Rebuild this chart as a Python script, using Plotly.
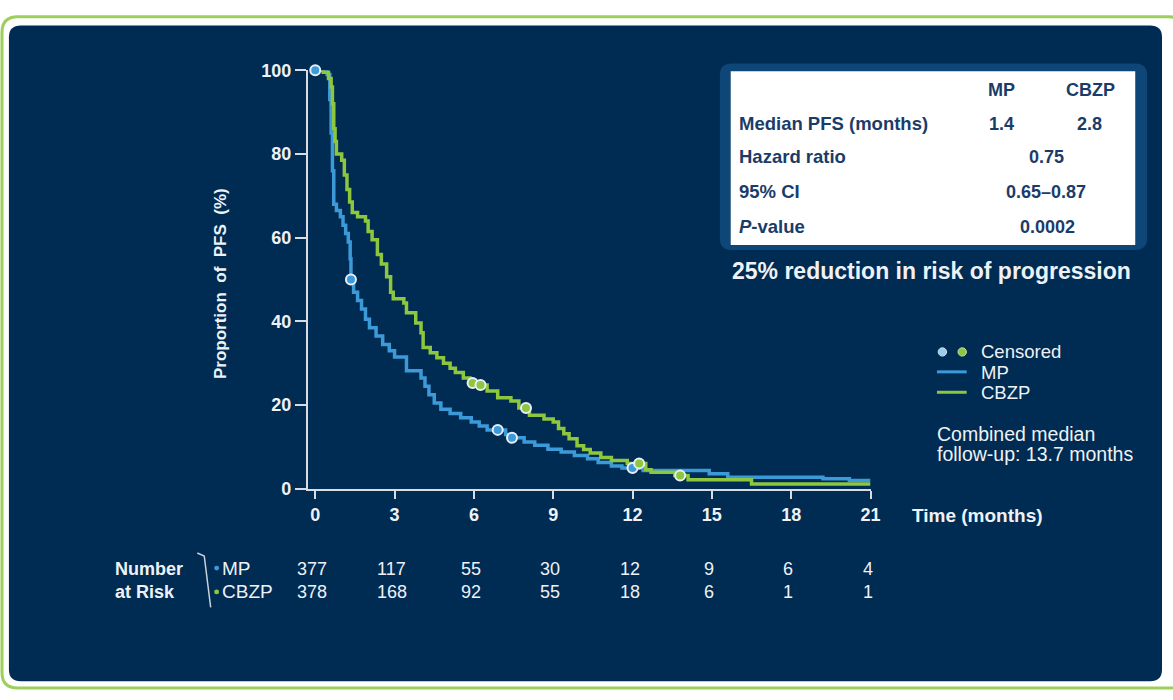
import plotly.graph_objects as go

W, H = 1173, 700

# ---------------- data ----------------
mp_time = [0, 0.45, 0.55, 0.6, 0.65, 0.7, 0.8, 0.95, 1.05, 1.15, 1.25, 1.32, 1.35, 1.45, 1.6, 1.75,
           1.9, 2.05, 2.3, 2.55, 2.8, 3.0, 3.45, 4.0, 4.15, 4.3, 4.5, 4.75, 5.1, 5.5, 5.9, 6.2, 6.5,
           7.2, 7.35, 7.9, 8.3, 8.8, 9.3, 9.8, 10.3, 10.7, 11.2, 11.6, 12.4, 14.9, 15.6, 19.2, 20.2, 21]
mp_surv = [100, 99, 93, 85, 76, 68, 66.5, 65, 63, 61, 59, 55, 50, 47, 45, 43,
           40.5, 38.5, 36.5, 34.5, 33, 31.5, 28.2, 26.5, 24.5, 22.5, 20.5, 19, 18, 17, 16, 15, 14.1,
           13.0, 12.2, 11.2, 10.4, 9.5, 8.8, 8.0, 7.2, 6.3, 5.5, 5.0, 4.4, 3.6, 2.8, 2.4, 2.0, 2.0]

cbzp_time = [0, 0.3, 0.5, 0.6, 0.65, 0.7, 0.75, 0.8, 1.0, 1.1, 1.2, 1.3, 1.4, 1.6, 1.9, 2.0, 2.15,
             2.35, 2.5, 2.7, 2.85, 2.95, 3.35, 3.45, 3.8, 4.0, 4.08, 4.35, 4.6, 4.85, 5.1, 5.3, 5.6,
             5.85, 6.2, 6.5, 6.9, 7.4, 7.7, 8.1, 8.65, 9.0, 9.2, 9.4, 9.6, 9.9, 10.15, 10.4, 10.8,
             11.2, 11.8, 12.5, 12.7, 13.6, 14.1, 16.5, 21]
cbzp_surv = [100, 99.5, 98, 96, 92, 86, 83, 80, 78.5, 75, 71.5, 68.5, 66, 65, 64, 61.5, 59.5,
             56, 53.7, 50.7, 47, 45.4, 44.4, 42.1, 39.6, 37.3, 33.8, 32.5, 31.3, 30, 28.8, 27.8, 26.5,
             25.3, 24.8, 23.4, 21.8, 21.0, 19.3, 17.6, 16.7, 16.0, 14.4, 13.2, 12.0, 10.3, 9.4, 8.6, 7.5,
             6.8, 6.1, 4.6, 4.0, 3.2, 2.2, 1.2, 1.2]

mp_cens_t = [0, 1.35, 6.9, 7.44, 12.0]
mp_cens_s = [100, 50, 14.1, 12.2, 5.0]
cbzp_cens_t = [5.95, 6.25, 7.97, 12.25, 13.8]
cbzp_cens_s = [25.3, 24.8, 19.3, 6.1, 3.2]

x_ticks = [0, 3, 6, 9, 12, 15, 18, 21]
y_ticks = [0, 20, 40, 60, 80, 100]
risk_times = [0, 3, 6, 9, 12, 15, 18, 21]
mp_risk = [377, 117, 55, 30, 12, 9, 6, 4]
cbzp_risk = [378, 168, 92, 55, 18, 6, 1, 1]

arms = ["MP", "CBZP"]
median_pfs = ["1.4", "2.8"]
hazard_ratio = "0.75"
ci95 = "0.65–0.87"
p_value = "0.0002"

# ---------------- style ----------------
NAVY = "#002b52"
BLUE = "#3d9ad9"
GREEN = "#8dc63f"
TXT = "#eef2f6"
AXIS = "#d8dde3"
TBL = "#1b3c68"
FONT = "Liberation Sans, Arial, sans-serif"


def px(x, y):
    return x / W, 1 - y / H


def rrect(x0, y0, x1, y1, r):
    pts = [("M", [(x0 + r, y0)]), ("L", [(x1 - r, y0)]), ("Q", [(x1, y0), (x1, y0 + r)]),
           ("L", [(x1, y1 - r)]), ("Q", [(x1, y1), (x1 - r, y1)]), ("L", [(x0 + r, y1)]),
           ("Q", [(x0, y1), (x0, y1 - r)]), ("L", [(x0, y0 + r)]), ("Q", [(x0, y0), (x0 + r, y0)])]
    s = ""
    for cmd, ps in pts:
        s += cmd + " " + " ".join("%.5f,%.5f" % px(a, b) for a, b in ps) + " "
    return s + "Z"


fig = go.Figure()

fig.add_trace(go.Scatter(x=mp_time, y=mp_surv, mode="lines", line=dict(color=BLUE, width=3.5, shape="hv"),
                         showlegend=False, hoverinfo="skip", cliponaxis=False))
fig.add_trace(go.Scatter(x=cbzp_time, y=cbzp_surv, mode="lines", line=dict(color=GREEN, width=3.5, shape="hv"),
                         showlegend=False, hoverinfo="skip", cliponaxis=False))
fig.add_trace(go.Scatter(x=mp_cens_t, y=mp_cens_s, mode="markers",
                         marker=dict(color=BLUE, size=10, line=dict(color="#e8eef4", width=2)),
                         showlegend=False, hoverinfo="skip", cliponaxis=False))
fig.add_trace(go.Scatter(x=cbzp_cens_t, y=cbzp_cens_s, mode="markers",
                         marker=dict(color=GREEN, size=10, line=dict(color="#e8eef4", width=2)),
                         showlegend=False, hoverinfo="skip", cliponaxis=False))

shapes = []
# outer green frame and navy panel
shapes.append(dict(type="path", xref="paper", yref="paper", path=rrect(2, 7, 1195, 698, 16),
                   line=dict(color="#9dcf5b", width=3), fillcolor="white", layer="below"))
shapes.append(dict(type="path", xref="paper", yref="paper", path=rrect(9, 16, 1172, 691, 12),
                   line=dict(width=0), fillcolor=NAVY, layer="below"))
# stats table box
shapes.append(dict(type="path", xref="paper", yref="paper", path=rrect(726, 55, 1157, 247, 12),
                   line=dict(width=0), fillcolor="#0e4678", layer="below"))
x0, y0 = px(737, 63)
x1, y1 = px(1145, 242)
shapes.append(dict(type="rect", xref="paper", yref="paper", x0=x0, y0=y0, x1=x1, y1=y1,
                   line=dict(width=0), fillcolor="white", layer="below"))


def circ(cx, cy, d, color, lw=0, lc=None):
    a, b = px(cx - d / 2, cy - d / 2)
    c, e = px(cx + d / 2, cy + d / 2)
    return dict(type="circle", xref="paper", yref="paper", x0=a, y0=b, x1=c, y1=e,
                fillcolor=color, line=dict(width=lw, color=lc or color), layer="above")


# legend symbols
shapes.append(circ(950.5, 352, 8.5, "#9ccbee", 1, "#cfe3f3"))
shapes.append(circ(970.5, 352, 8.5, GREEN, 1, "#c8e4a0"))
for yy, col in [(372.5, BLUE), (393.5, GREEN)]:
    a, b = px(945, yy)
    c, _ = px(975, yy)
    shapes.append(dict(type="line", xref="paper", yref="paper", x0=a, y0=b, x1=c, y1=b,
                       line=dict(color=col, width=3)))

# risk table bracket and dots
shapes.append(dict(type="path", xref="paper", yref="paper",
                   path="M %.5f,%.5f L %.5f,%.5f L %.5f,%.5f" % (*px(199, 559), *px(206, 562), *px(212.5, 615)),
                   line=dict(color="#c9d1da", width=1.5)))
shapes.append(circ(218.5, 574.5, 5, BLUE))
shapes.append(circ(218.5, 599, 5, GREEN))

ann = []


def text(x, y, s, size, bold=False, color=TXT, anchor="left", **kw):
    a, b = px(x, y)
    ann.append(dict(x=a, y=b, xref="paper", yref="paper", text=s, showarrow=False,
                    xanchor=anchor, yanchor="middle",
                    font=dict(family=FONT, size=size, color=color,
                              weight="bold" if bold else "normal"), **kw))


# axis titles
text(918, 520, "Time (months)", 19, bold=True)
text(223, 282, "Proportion\u00a0 of\u00a0 PFS\u00a0 (%)", 17, bold=True, anchor="center", textangle=-90)

# stats table
text(1010, 82, arms[0], 18, bold=True, color=TBL, anchor="center")
text(1100, 82, arms[1], 18, bold=True, color=TBL, anchor="center")
text(743, 117, "Median PFS (months)", 18.5, bold=True, color=TBL)
text(1010, 117, median_pfs[0], 18, bold=True, color=TBL, anchor="center")
text(1099, 117, median_pfs[1], 18, bold=True, color=TBL, anchor="center")
text(743, 151, "Hazard ratio", 18.5, bold=True, color=TBL)
text(1056, 151, hazard_ratio, 18, bold=True, color=TBL, anchor="center")
text(743, 187, "95% CI", 18.5, bold=True, color=TBL)
text(1055, 187, ci95, 18, bold=True, color=TBL, anchor="center")
text(743, 223, "<i>P</i>-value", 18.5, bold=True, color=TBL)
text(1057, 223, p_value, 18, bold=True, color=TBL, anchor="center")
text(736, 269, "25% reduction in risk of progression", 23, bold=True)

# legend text
text(987, 352, "Censored", 18.5)
text(987, 373, "MP", 18.5)
text(987, 394, "CBZP", 18.5)
text(943, 436, "Combined median", 19.5)
text(943, 457, "follow-up: 13.7 months", 19.5)

# number at risk
text(114, 575, "Number", 18, bold=True)
text(114, 599, "at Risk", 18, bold=True)
text(222, 575, "MP", 19)
text(222, 599, "CBZP", 19)
for t, a_, b_ in zip(risk_times, mp_risk, cbzp_risk):
    for val, yy in [(a_, 575), (b_, 599)]:
        ann.append(dict(x=t, y=1 - yy / H, xref="x", yref="paper", text=str(val), showarrow=False,
                        xanchor="center", yanchor="middle", xshift=-3,
                        font=dict(family=FONT, size=18, color=TXT)))

fig.update_layout(
    width=W, height=H, margin=dict(l=0, r=0, t=0, b=0),
    paper_bgcolor="white", plot_bgcolor="rgba(0,0,0,0)",
    shapes=shapes, annotations=ann, showlegend=False,
    xaxis=dict(domain=[310.5 / W, 878 / W], range=[-0.28, 21], tickvals=x_ticks,
               ticktext=[str(v) for v in x_ticks], showgrid=False, zeroline=False,
               showline=True, linecolor=AXIS, linewidth=2, ticks="outside", ticklen=8,
               tickwidth=2, tickcolor=AXIS,
               tickfont=dict(family=FONT, size=18, color=TXT, weight="bold")),
    yaxis=dict(domain=[1 - 493 / H, 1 - 62 / H], range=[0, 100], tickvals=y_ticks,
               ticktext=[str(v) for v in y_ticks], showgrid=False, zeroline=False,
               showline=True, linecolor=AXIS, linewidth=2, ticks="outside", ticklen=11,
               tickwidth=2, tickcolor=AXIS,
               tickfont=dict(family=FONT, size=18, color=TXT, weight="bold")),
)

fig.write_html("out.html")
